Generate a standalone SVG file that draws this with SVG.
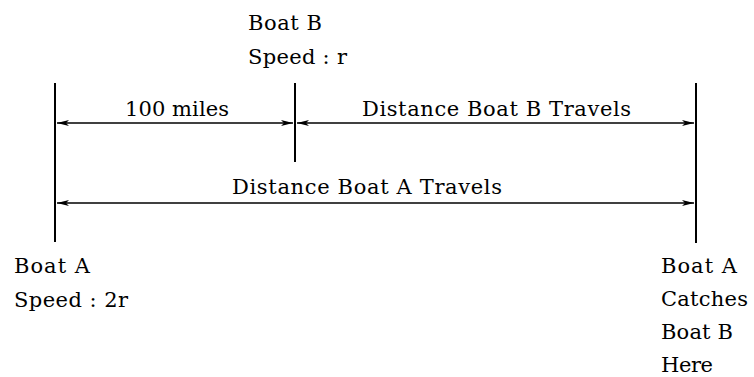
<svg xmlns="http://www.w3.org/2000/svg" width="754" height="377" viewBox="0 0 754 377">
<style>
text{font-family:"DejaVu Serif","Liberation Serif",serif;font-size:21px;fill:#000}
.tick{stroke:#000;stroke-width:2;fill:none}
.dim{stroke:#000;stroke-width:1.5;fill:none}
</style>
<defs>
<marker id="ah" viewBox="0 0 12 8" refX="12" refY="4" markerWidth="12" markerHeight="8" markerUnits="userSpaceOnUse" orient="auto-start-reverse">
<path d="M0,1 L12,4 L0,7 L3,4 Z" fill="#000"/>
</marker>
</defs>
<rect width="754" height="377" fill="#fff"/>
<g id="connectors">
<line class="dim" x1="57" y1="123" x2="293" y2="123" marker-start="url(#ah)" marker-end="url(#ah)"/>
<line class="dim" x1="297" y1="123" x2="694" y2="123" marker-start="url(#ah)" marker-end="url(#ah)"/>
<line class="dim" x1="57" y1="203" x2="694" y2="203" marker-start="url(#ah)" marker-end="url(#ah)"/>
</g>
<g id="boatA-start">
<line class="tick" x1="55" y1="83" x2="55" y2="242"/>
<text x="14" y="273" textLength="76">Boat A</text>
<text x="14" y="307" textLength="114">Speed : 2r</text>
</g>
<g id="boatB-start">
<line class="tick" x1="295" y1="83" x2="295" y2="162"/>
<text x="248" y="30" textLength="74">Boat B</text>
<text x="248" y="64" textLength="99">Speed : r</text>
</g>
<g id="catch-point">
<line class="tick" x1="696" y1="83" x2="696" y2="243"/>
<text x="661" y="273" textLength="76">Boat A</text>
<text x="661" y="306" textLength="87">Catches</text>
<text x="661" y="339" textLength="72">Boat B</text>
<text x="661" y="372" textLength="52">Here</text>
</g>
<g id="labels">
<text x="125" y="116" textLength="104">100 miles</text>
<text x="362" y="116" textLength="269">Distance Boat B Travels</text>
<text x="232" y="194" textLength="270">Distance Boat A Travels</text>
</g>
</svg>
